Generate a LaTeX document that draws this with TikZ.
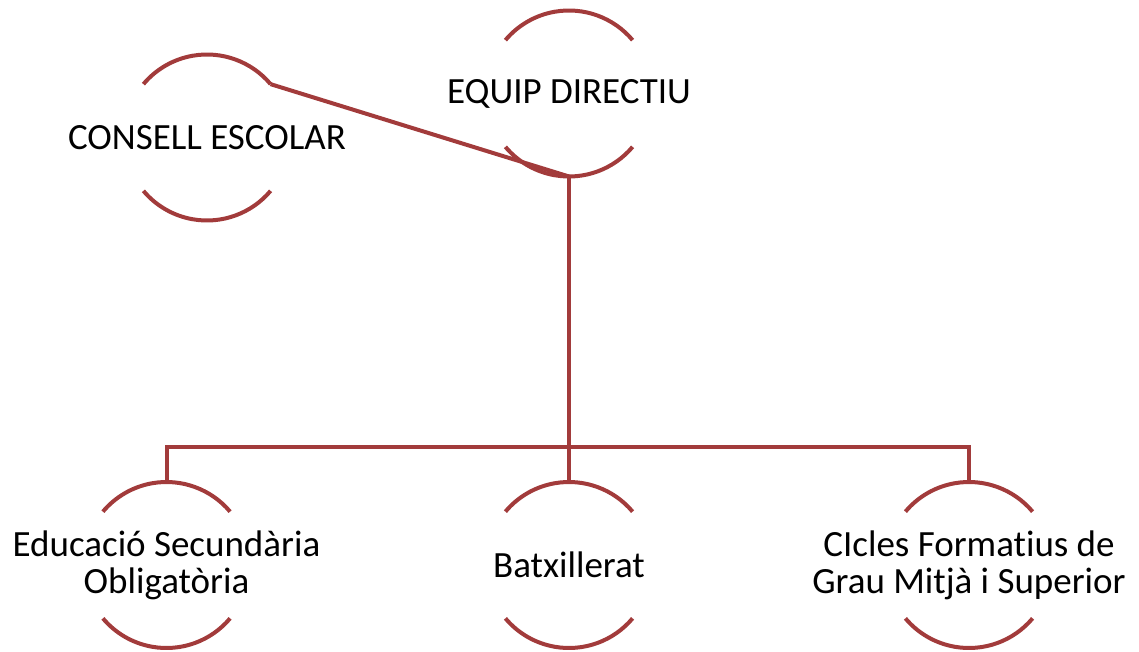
\documentclass[tikz,border=0pt]{standalone}
\usepackage{fontspec}
\setmainfont[Ligatures=NoCommon]{Carlito}
\definecolor{arcred}{HTML}{A23B3B}
\begin{document}
\begin{tikzpicture}[x=1pt,y=-1pt,
  circ/.style={circle,minimum size=166pt,inner sep=0pt,outer sep=0pt},
  lbl/.style={align=center,inner sep=0pt,font=\fontsize{37}{37}\selectfont},
  ring/.style={draw=arcred,line width=4pt},
  link/.style={draw=arcred,line width=4pt}]
\useasboundingbox (0,0) rectangle (1139,652);
% circles (invisible holders)
\node[circ] (ed) at (569,93.5) {};
\node[circ] (cs) at (207,137.5) {};
\node[circ] (eso) at (166.5,565) {};
\node[circ] (bat) at (569,565) {};
\node[circ] (cf) at (969,565) {};
% labels
\node[lbl] (edt) at (ed.center) {EQUIP DIRECTIU};
\node[lbl] (cst) at (cs.center) {CONSELL ESCOLAR};
\node[lbl] (esot) at (eso.center) {Educació Secundària\\Obligatòria};
\node[lbl] (batt) at (bat.center) {Batxillerat};
\node[lbl] (cft) at (cf.center) {CIcles Formatius de\\Grau Mitjà i Superior};
% arcs
\foreach \n in {ed,cs,eso,bat,cf}{
  \draw[ring] (\n.40) arc[start angle=-40,end angle=-140,radius=83];
  \draw[ring] (\n.-40) arc[start angle=40,end angle=140,radius=83];
}
% connectors
\coordinate (bus) at (569,447);
\draw[link] (cs.40) -- (ed.south);
\draw[link] (ed.south) -- (bus);
\draw[link] (bus) -- (bat.north);
\draw[link] (eso.north) -- (eso.north |- bus) -- (cf.north |- bus) -- (cf.north);
\end{tikzpicture}
\end{document}
